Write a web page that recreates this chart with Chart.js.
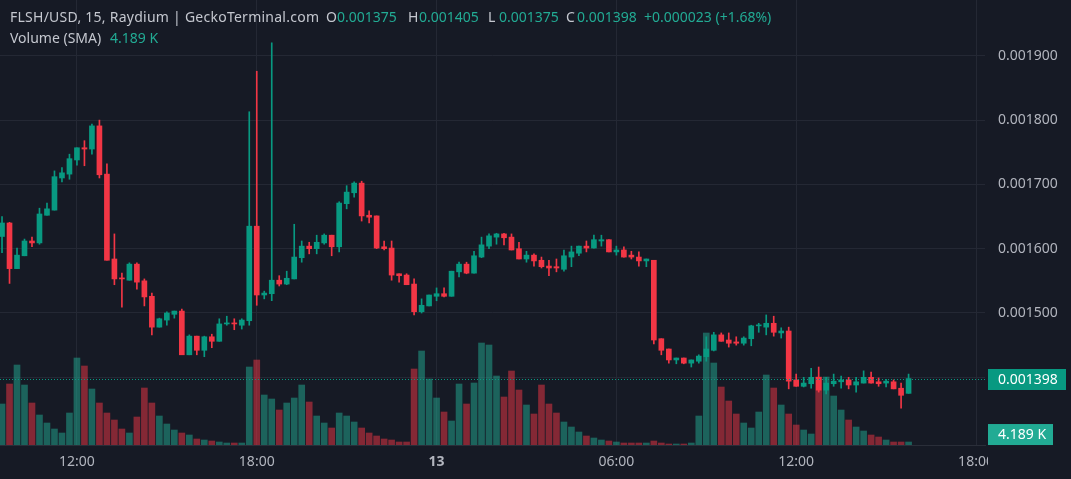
<!DOCTYPE html>
<html>
<head>
<meta charset="utf-8">
<script src="https://cdn.jsdelivr.net/npm/chart.js@4.4.1/dist/chart.umd.min.js"></script>
<style>
  html, body { margin: 0; padding: 0; background: #161a25; overflow: hidden; }
  canvas { display: block; }
</style>
</head>
<body>
<canvas id="chart" width="1071" height="479"></canvas>
<script>
// 15 minute candles, first one at 09:30, price in USD
const open = [0.001619,0.001640,0.001569,0.001589,0.001612,0.001609,0.001652,0.001660,0.001710,0.001716,
  0.001738,0.001757,0.001755,0.001791,0.001716,0.001584,0.001554,0.001551,0.001576,0.001550,
  0.001526,0.001478,0.001489,0.001498,0.001503,0.001435,0.001464,0.001442,0.001463,0.001456,
  0.001483,0.001484,0.001481,0.001488,0.001635,0.001528,0.001530,0.001551,0.001545,0.001553,
  0.001586,0.001604,0.001600,0.001609,0.001621,0.001603,0.001670,0.001687,0.001702,0.001652,
  0.001651,0.001603,0.001601,0.001561,0.001559,0.001545,0.001502,0.001511,0.001526,0.001530,
  0.001526,0.001564,0.001576,0.001562,0.001587,0.001604,0.001618,0.001623,0.001618,0.001600,
  0.001584,0.001590,0.001582,0.001573,0.001572,0.001568,0.001587,0.001593,0.001604,0.001601,
  0.001612,0.001614,0.001595,0.001598,0.001590,0.001587,0.001581,0.001582,0.001460,0.001444,
  0.001427,0.001430,0.001422,0.001425,0.001432,0.001442,0.001466,0.001458,0.001455,0.001453,
  0.001460,0.001480,0.001478,0.001484,0.001469,0.001472,0.001396,0.001386,0.001390,0.001400,
  0.001380,0.001390,0.001393,0.001396,0.001388,0.001391,0.001400,0.001393,0.001391,0.001393,
  0.001383,0.001375]
const high = [0.001650,0.001641,0.001601,0.001615,0.001618,0.001663,0.001671,0.001721,0.001726,0.001747,
  0.001757,0.001768,0.001794,0.001800,0.001732,0.001623,0.001562,0.001578,0.001578,0.001553,
  0.001531,0.001492,0.001502,0.001503,0.001506,0.001466,0.001464,0.001464,0.001467,0.001491,
  0.001495,0.001491,0.001491,0.001813,0.001876,0.001534,0.001920,0.001558,0.001565,0.001638,
  0.001612,0.001610,0.001621,0.001623,0.001621,0.001673,0.001698,0.001704,0.001705,0.001659,
  0.001651,0.001612,0.001612,0.001561,0.001561,0.001553,0.001522,0.001528,0.001539,0.001539,
  0.001565,0.001579,0.001579,0.001596,0.001618,0.001623,0.001624,0.001624,0.001623,0.001610,
  0.001596,0.001592,0.001587,0.001582,0.001584,0.001598,0.001604,0.001604,0.001612,0.001621,
  0.001621,0.001614,0.001604,0.001603,0.001596,0.001595,0.001584,0.001582,0.001460,0.001444,
  0.001430,0.001430,0.001427,0.001435,0.001463,0.001470,0.001469,0.001469,0.001463,0.001463,
  0.001481,0.001484,0.001497,0.001495,0.001477,0.001478,0.001405,0.001400,0.001414,0.001416,
  0.001400,0.001405,0.001402,0.001400,0.001400,0.001410,0.001408,0.001399,0.001397,0.001396,
  0.001391,0.001405]
const low = [0.001594,0.001546,0.001569,0.001589,0.001603,0.001607,0.001652,0.001660,0.001704,0.001708,
  0.001730,0.001729,0.001747,0.001710,0.001582,0.001544,0.001509,0.001551,0.001537,0.001511,
  0.001466,0.001478,0.001481,0.001492,0.001435,0.001435,0.001435,0.001432,0.001446,0.001456,
  0.001481,0.001474,0.001475,0.001481,0.001512,0.001522,0.001519,0.001542,0.001544,0.001553,
  0.001579,0.001592,0.001592,0.001607,0.001589,0.001595,0.001662,0.001680,0.001643,0.001640,
  0.001600,0.001598,0.001551,0.001548,0.001544,0.001497,0.001500,0.001511,0.001519,0.001525,
  0.001526,0.001556,0.001561,0.001562,0.001586,0.001600,0.001607,0.001606,0.001598,0.001584,
  0.001579,0.001573,0.001570,0.001558,0.001564,0.001565,0.001572,0.001589,0.001595,0.001601,
  0.001604,0.001595,0.001590,0.001587,0.001584,0.001573,0.001572,0.001452,0.001435,0.001422,
  0.001421,0.001421,0.001416,0.001422,0.001425,0.001441,0.001456,0.001447,0.001450,0.001450,
  0.001449,0.001470,0.001466,0.001464,0.001461,0.001382,0.001386,0.001385,0.001383,0.001377,
  0.001374,0.001386,0.001383,0.001382,0.001377,0.001391,0.001391,0.001386,0.001385,0.001382,
  0.001352,0.001375]
const close = [0.001640,0.001569,0.001590,0.001612,0.001609,0.001654,0.001662,0.001712,0.001718,0.001740,
  0.001757,0.001755,0.001791,0.001715,0.001582,0.001553,0.001553,0.001576,0.001548,0.001525,
  0.001478,0.001491,0.001500,0.001503,0.001435,0.001464,0.001442,0.001463,0.001456,0.001483,
  0.001484,0.001483,0.001489,0.001635,0.001528,0.001531,0.001551,0.001545,0.001554,0.001587,
  0.001604,0.001600,0.001610,0.001621,0.001603,0.001671,0.001688,0.001702,0.001651,0.001649,
  0.001601,0.001600,0.001559,0.001558,0.001544,0.001502,0.001512,0.001528,0.001530,0.001526,
  0.001565,0.001576,0.001562,0.001589,0.001606,0.001620,0.001623,0.001617,0.001598,0.001584,
  0.001590,0.001581,0.001572,0.001570,0.001570,0.001589,0.001595,0.001604,0.001601,0.001614,
  0.001614,0.001595,0.001598,0.001587,0.001587,0.001581,0.001584,0.001458,0.001442,0.001427,
  0.001430,0.001422,0.001427,0.001433,0.001444,0.001466,0.001456,0.001453,0.001453,0.001461,
  0.001480,0.001481,0.001484,0.001470,0.001472,0.001394,0.001386,0.001391,0.001400,0.001380,
  0.001391,0.001394,0.001396,0.001388,0.001393,0.001400,0.001391,0.001390,0.001394,0.001382,
  0.001372,0.001398]
// volume in thousands of USD
const volume = [16.4,24.4,32,24,16.8,12,8.8,6.4,4.8,12.8,
  34.8,31.6,22.4,16.8,12.8,10,6.4,4.8,11.2,22.8,
  16.8,11.6,8.4,6,4.8,4,2.4,2,1.6,1.2,
  0.8,0.8,0.8,31.2,34,20,18.4,14,16.8,18.8,
  24,17.2,11.6,8.8,6.8,12.8,11.6,9.2,6.8,4.8,
  3.6,2.4,2,1.2,1.2,30.4,37.6,26.4,18.8,13.2,
  9.6,24.4,16.4,24.8,40.8,40,27.6,19.2,29.6,22,
  16,12.4,24,16.4,12.8,9.2,7.2,5.2,3.6,2.8,
  2,1.6,1.2,0.8,0.8,0.8,0.8,1.6,0.8,0.4,
  0.4,0.4,0.8,11.6,44.8,32.8,23.2,17.6,12.4,8.8,
  6.8,13.2,28,22.8,16,12.4,8,6,4.4,27.2,
  27.2,19.6,14,10,7.2,5.6,4,3.2,2,1.2,
  1.2,1.2]
const volumeSma = 4.189

// time axis: candle index of each labelled time
const timeTickIdx = [10, 34, 58, 82, 106, 130]
const timeTickText = ['12:00', '18:00', '13', '06:00', '12:00', '18:00']
const priceTicks = [0.0014, 0.0015, 0.0016, 0.0017, 0.0018, 0.0019]

const bg = '#161a25'
const grid = '#242834'
const textGrey = '#b2b5be'
const up = '#089981'
const down = '#f23645'
const teal = '#22ab94'
const font = '"Noto Sans", sans-serif'

const last = close.length - 1
const idx = close.map((_, i) => i)
const isUp = i => close[i] >= open[i]

function noPadding(scale) {
    scale.paddingTop = 0
    scale.paddingBottom = 0
    scale.paddingLeft = 0
    scale.paddingRight = 0
}

const overlay = {
    id: 'overlay',
    beforeDraw(chart) {
        const ctx = chart.ctx
        ctx.save()
        ctx.fillStyle = bg
        ctx.fillRect(0, 0, chart.width, chart.height)
        ctx.restore()
    },
    afterDraw(chart) {
        const { ctx, chartArea, scales } = chart
        ctx.save()
        // price scale hides the end of the time axis
        ctx.fillStyle = bg
        ctx.fillRect(chartArea.right + 3, chartArea.bottom + 1, chart.width, chart.height)

        // last price line + tag
        const py = Math.round(scales.y.getPixelForValue(close[last])) + 0.5
        ctx.strokeStyle = up
        ctx.lineWidth = 1
        ctx.setLineDash([1, 2])
        ctx.beginPath()
        ctx.moveTo(0, py)
        ctx.lineTo(chartArea.right, py)
        ctx.stroke()
        ctx.setLineDash([])

        ctx.font = '14px ' + font
        ctx.textBaseline = 'middle'
        ctx.fillStyle = up
        ctx.fillRect(988, py - 10.5, 78, 21)
        ctx.fillStyle = '#ffffff'
        ctx.fillText(close[last].toFixed(6), 998, py + 0.5)

        const vy = scales.v.getPixelForValue(volumeSma)
        ctx.fillStyle = teal
        ctx.fillRect(988, vy - 10.5, 65, 21)
        ctx.fillStyle = '#ffffff'
        ctx.fillText(volumeSma.toFixed(3) + ' K', 998, vy + 0.5)

        // legend lines
        ctx.textBaseline = 'alphabetic'
        ctx.fillStyle = '#c4c7cf'
        ctx.letterSpacing = '0.25px'
        ctx.fillText('FLSH/USD, 15, Raydium | GeckoTerminal.com', 10, 22)
        ctx.letterSpacing = '0px'
        const ohlc = [['O', open[last], 326], ['H', high[last], 408], ['L', low[last], 488], ['C', close[last], 566]]
        ohlc.forEach(([k, v, x]) => {
            ctx.fillStyle = '#c4c7cf'
            ctx.fillText(k, x, 22)
            ctx.fillStyle = teal
            ctx.fillText(v.toFixed(6), x + 11, 22)
        })
        ctx.fillText('+0.000023 (+1.68%)', 644, 22)
        ctx.fillStyle = '#c4c7cf'
        ctx.fillText('Volume (SMA)', 10, 43)
        ctx.fillStyle = teal
        ctx.fillText(volumeSma.toFixed(3) + ' K', 110, 43)
        ctx.restore()
    }
}

const chart = new Chart(document.getElementById('chart'), {
    type: 'bar',
    data: {
        datasets: [
            {
                label: 'Body',
                data: idx.map(i => ({ x: i, y: [open[i], close[i]] })),
                backgroundColor: idx.map(i => isUp(i) ? up : down),
                barThickness: 5,
                minBarLength: 1,
                grouped: false,
                order: 1,
                yAxisID: 'y'
            },
            {
                label: 'Wick',
                data: idx.map(i => ({ x: i, y: [low[i], high[i]] })),
                backgroundColor: idx.map(i => isUp(i) ? up : down),
                barThickness: 1,
                grouped: false,
                order: 2,
                yAxisID: 'y'
            },
            {
                label: 'Volume',
                data: idx.map(i => ({ x: i, y: volume[i] })),
                backgroundColor: idx.map(i => isUp(i) ? 'rgba(34,171,148,0.5)' : 'rgba(242,54,69,0.5)'),
                barThickness: 6,
                grouped: false,
                order: 3,
                yAxisID: 'v'
            }
        ]
    },
    options: {
        responsive: false,
        animation: false,
        devicePixelRatio: 1,
        layout: { padding: 0 },
        plugins: {
            legend: { display: false },
            tooltip: { enabled: false }
        },
        scales: {
            x: {
                type: 'linear',
                min: -0.27,
                max: 131.2,
                offset: false,
                afterBuildTicks: scale => { scale.ticks = timeTickIdx.map(v => ({ value: v })) },
                afterFit: scale => { scale.height = 34; noPadding(scale) },
                grid: { color: grid, drawTicks: false, offset: false },
                border: { display: true, color: '#2a2e39' },
                ticks: {
                    color: textGrey,
                    padding: 9,
                    maxRotation: 0,
                    autoSkip: false,
                    font: c => ({ family: font, size: 14, weight: c.tick && c.tick.value === 58 ? 'bold' : 'normal' }),
                    callback: v => timeTickText[timeTickIdx.indexOf(v)]
                }
            },
            y: {
                position: 'right',
                min: 0.0012947,
                max: 0.0019868,
                afterBuildTicks: scale => { scale.ticks = priceTicks.map(v => ({ value: v })) },
                afterFit: scale => { scale.width = 86; noPadding(scale) },
                grid: { color: grid, drawTicks: false },
                border: { display: false },
                ticks: {
                    color: textGrey,
                    padding: 13,
                    font: { family: font, size: 14 },
                    callback: v => v === 0.0014 ? '' : v.toFixed(6)
                }
            },
            v: {
                display: false,
                min: 0,
                max: 178,
                afterFit: noPadding
            }
        }
    },
    plugins: [overlay]
})
</script>
</body>
</html>
